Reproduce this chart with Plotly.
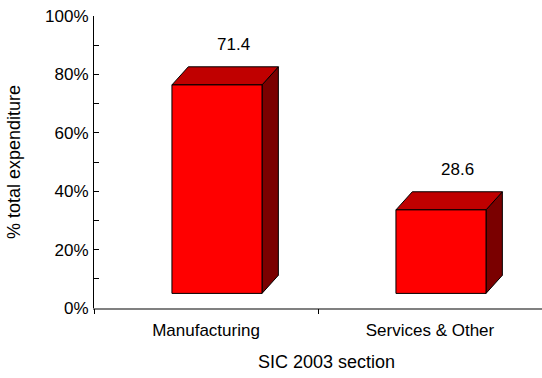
import plotly.graph_objects as go

# Share of total expenditure by SIC 2003 section
categories = ["Manufacturing", "Services & Other"]
values = [71.4, 28.6]
y_ticks = [0, 20, 40, 60, 80, 100]
y_tick_labels = ["0%", "20%", "40%", "60%", "80%", "100%"]

# 3-D bar look (data units)
BASE = 5.0          # floor lift of the front face
FRONT_LEFT = -0.152 # front-face left edge relative to category centre
FRONT_W = 0.402     # front-face width
DEPTH_X = 0.073     # depth offset to the right
DEPTH_Y = 6.2       # depth offset upwards

FRONT_COLOR = "#FF0000"
TOP_COLOR = "#C00000"
SIDE_COLOR = "#7A0000"
FONT = "Arial, Liberation Sans, sans-serif"

fig = go.Figure()


def poly(xs, ys, color):
    fig.add_trace(go.Scatter(
        x=xs + [xs[0]], y=ys + [ys[0]], mode="lines", fill="toself",
        fillcolor=color, line=dict(color="black", width=1),
        hoverinfo="skip", showlegend=False,
    ))


for i, v in enumerate(values):
    x0 = i + FRONT_LEFT
    x1 = x0 + FRONT_W
    y0 = BASE
    y1 = BASE + v
    # right side
    poly([x1, x1 + DEPTH_X, x1 + DEPTH_X, x1],
         [y0, y0 + DEPTH_Y, y1 + DEPTH_Y, y1], SIDE_COLOR)
    # top
    poly([x0, x0 + DEPTH_X, x1 + DEPTH_X, x1],
         [y1, y1 + DEPTH_Y, y1 + DEPTH_Y, y1], TOP_COLOR)
    # front
    poly([x0, x1, x1, x0], [y0, y0, y1, y1], FRONT_COLOR)
    # value label over the back edge of the bar
    fig.add_annotation(
        x=x0 + FRONT_W / 2 + DEPTH_X, y=y1 + DEPTH_Y, text=f"{v:.1f}",
        showarrow=False, xanchor="center", yanchor="bottom", yshift=11,
        font=dict(family=FONT, size=17, color="black"),
    )

# invisible trace carrying the boundary-tick axis
fig.add_trace(go.Scatter(x=[0.5], y=[0], xaxis="x2", mode="markers",
                         marker=dict(opacity=0), hoverinfo="skip",
                         showlegend=False))

fig.update_layout(
    width=542, height=378,
    margin=dict(l=94, r=0, t=16, b=70),
    paper_bgcolor="white", plot_bgcolor="white",
    font=dict(family=FONT, size=17, color="black"),
    xaxis=dict(
        range=[-0.5, 1.5], tickvals=[0, 1], ticktext=categories,
        ticks="", showline=True, linecolor="#808080", linewidth=2,
        showgrid=False, zeroline=False, ticklabelstandoff=6,
        tickfont=dict(size=17),
    ),
    xaxis2=dict(
        range=[-0.5, 1.5], overlaying="x", anchor="y", side="bottom",
        tickvals=[-0.5, 0.5, 1.5], showticklabels=False,
        ticks="outside", ticklen=5, tickcolor="black", tickwidth=1,
        showline=False, showgrid=False, zeroline=False,
    ),
    yaxis=dict(
        range=[0, 100], tickvals=y_ticks, ticktext=y_tick_labels,
        ticks="inside", ticklen=5, tickcolor="black", tickwidth=1,
        minor=dict(dtick=10, ticks="inside", ticklen=5, tickcolor="black"),
        showline=True, linecolor="black", linewidth=1,
        showgrid=False, zeroline=False, ticklabelstandoff=1,
        tickfont=dict(size=17),
    ),
)

fig.add_annotation(
    text="% total expenditure", textangle=-90, showarrow=False,
    xref="paper", yref="paper", x=0, y=0.5, xanchor="center",
    xshift=-80, font=dict(family=FONT, size=18, color="black"),
)
fig.add_annotation(
    text="SIC 2003 section", showarrow=False,
    xref="paper", yref="paper", x=0.52, y=0, yanchor="top",
    yshift=-42, font=dict(family=FONT, size=18, color="black"),
)

fig.write_html("out.html")
